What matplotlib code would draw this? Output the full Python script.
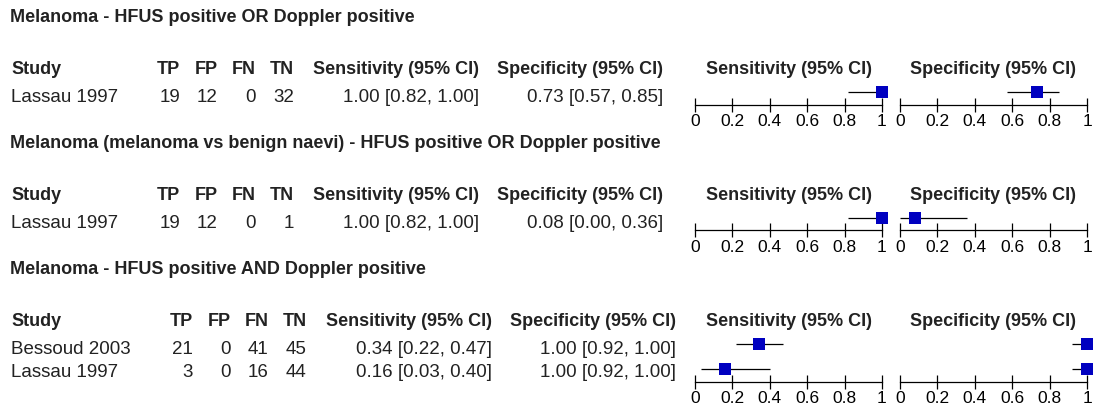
import matplotlib
matplotlib.use("Agg")
import matplotlib.pyplot as plt

# ---------------- data ----------------
titles = [
    "Melanoma - HFUS positive OR Doppler positive",
    "Melanoma (melanoma vs benign naevi) - HFUS positive OR Doppler positive",
    "Melanoma - HFUS positive AND Doppler positive",
]
studies = [["Lassau 1997"], ["Lassau 1997"], ["Bessoud 2003", "Lassau 1997"]]
tp = [[19], [19], [21, 3]]
fp = [[12], [12], [0, 0]]
fn = [[0], [0], [41, 16]]
tn = [[32], [1], [45, 44]]
sens = [[1.00], [1.00], [0.34, 0.16]]
sens_lo = [[0.82], [0.82], [0.22, 0.03]]
sens_hi = [[1.00], [1.00], [0.47, 0.40]]
spec = [[0.73], [0.08], [1.00, 1.00]]
spec_lo = [[0.57], [0.00], [0.92, 0.92]]
spec_hi = [[0.85], [0.36], [1.00, 1.00]]
tick_vals = [0, 0.2, 0.4, 0.6, 0.8, 1]
tick_labels = ["0", "0.2", "0.4", "0.6", "0.8", "1"]
col_headers = ["TP", "FP", "FN", "TN"]
ci_header_sens = "Sensitivity (95% CI)"
ci_header_spec = "Specificity (95% CI)"

# ---------------- layout ----------------
W, H = 1096, 409
FONT = ["Liberation Sans", "DejaVu Sans"]
TXT = "#222222"
BLUE = "#0000c0"
FS_BOLD = 13
FS_REG = 13.5

fig = plt.figure(figsize=(W / 100, H / 100), dpi=100)
bg = fig.add_axes([0, 0, 1, 1])
bg.set_xlim(0, W)
bg.set_ylim(H, 0)
bg.axis("off")


def px_axes(left, right, top, bottom):
    return fig.add_axes([left / W, 1 - bottom / H, (right - left) / W, (bottom - top) / H])


SEC_STEP = 126
ROW_TXT = 23
ROW_MARK = 25
col_shift = [0, 0, 12.5]
num_right = [180, 218, 256, 294]
sens_right = 479
spec_right = 663
sens_x = (695, 882)
spec_x = (900, 1087)


def txt(x, y, s, ha="left", bold=False):
    bg.text(x, y, s, ha=ha, va="baseline", fontsize=FS_BOLD if bold else FS_REG,
            family=FONT, fontweight="bold" if bold else "normal", color=TXT)


def forest(ax, est, lo, hi):
    n = len(est)
    rows = list(range(n))
    ax.hlines(rows, lo, hi, color="black", lw=0.9, clip_on=False, zorder=2)
    ax.plot(est, rows, "s", color=BLUE, ms=8, mew=0, clip_on=False, zorder=3)
    ax.set_xlim(0, 1)
    ax.set_ylim(n - 1 + 0.5, -0.5)
    ax.patch.set_visible(False)
    for sp in ["top", "left", "right"]:
        ax.spines[sp].set_visible(False)
    ax.spines["bottom"].set_linewidth(0.9)
    ax.spines["bottom"].set_color("black")
    ax.set_yticks([])
    ax.set_xticks(tick_vals)
    ax.set_xticklabels(tick_labels, family=FONT, fontsize=12.5, color="black")
    ax.tick_params(axis="x", direction="inout", length=9.5, width=0.9, pad=1.8,
                   color="black")


for k in range(len(titles)):
    off = SEC_STEP * k
    sh = col_shift[k]
    txt(10, 22 + off, titles[k], bold=True)
    hy = 74.5 + off
    txt(11, hy, "Study", bold=True)
    for j, h in enumerate(col_headers):
        txt(num_right[j] + sh, hy, h, ha="right", bold=True)
    txt(sens_right + sh, hy, ci_header_sens, ha="right", bold=True)
    txt(spec_right + sh, hy, ci_header_spec, ha="right", bold=True)
    txt(sum(sens_x) / 2, hy, ci_header_sens, ha="center", bold=True)
    txt(sum(spec_x) / 2, hy, ci_header_spec, ha="center", bold=True)

    for i, name in enumerate(studies[k]):
        ry = 101.7 + off + ROW_TXT * i
        txt(11, ry, name)
        vals = [tp[k][i], fp[k][i], fn[k][i], tn[k][i]]
        for j, v in enumerate(vals):
            txt(num_right[j] + sh, ry, str(v), ha="right")
        txt(sens_right + sh, ry,
            f"{sens[k][i]:.2f} [{sens_lo[k][i]:.2f}, {sens_hi[k][i]:.2f}]", ha="right")
        txt(spec_right + sh, ry,
            f"{spec[k][i]:.2f} [{spec_lo[k][i]:.2f}, {spec_hi[k][i]:.2f}]", ha="right")

    n = len(studies[k])
    top = 92 + off - ROW_MARK / 2
    bottom = top + ROW_MARK * n
    ax1 = px_axes(sens_x[0], sens_x[1], top, bottom)
    forest(ax1, sens[k], sens_lo[k], sens_hi[k])
    ax2 = px_axes(spec_x[0], spec_x[1], top, bottom)
    forest(ax2, spec[k], spec_lo[k], spec_hi[k])

fig.savefig("out.png", dpi=100, facecolor="white")
